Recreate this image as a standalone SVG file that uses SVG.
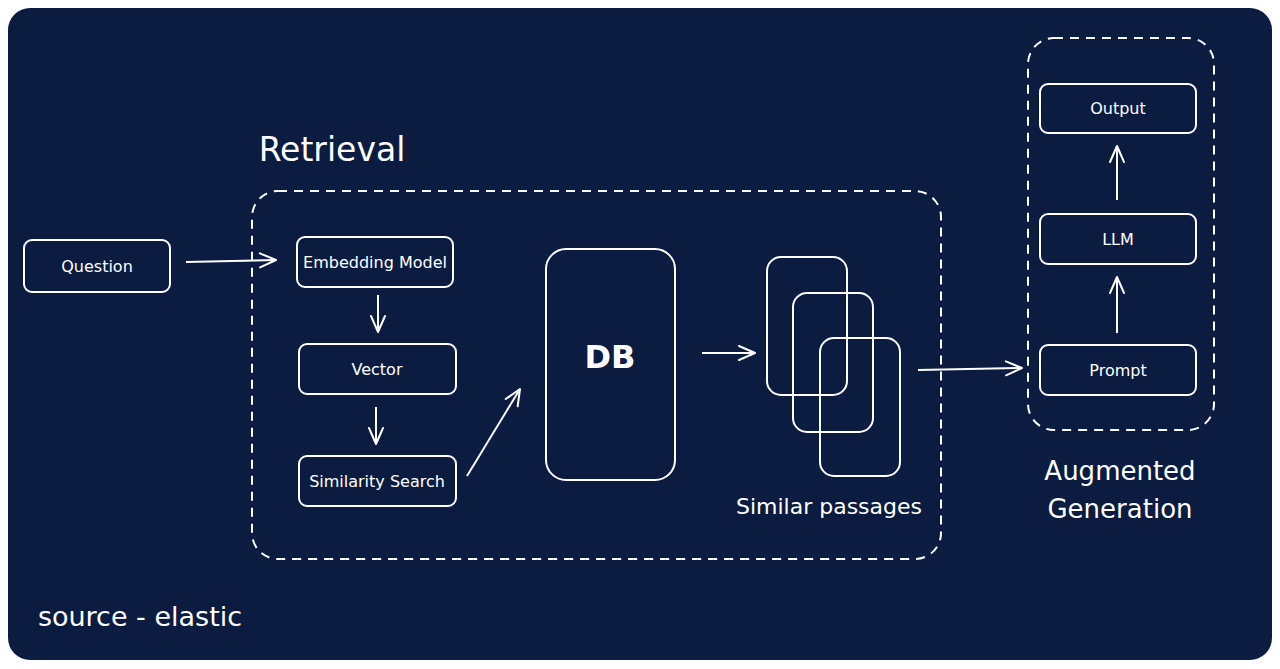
<svg xmlns="http://www.w3.org/2000/svg" width="1280" height="669" viewBox="0 0 1280 669">
<style>
.bg{fill:#0c1c40}
.box{fill:none;stroke:#ffffff;stroke-width:2}
.dash{fill:none;stroke:#ffffff;stroke-width:2;stroke-dasharray:9 7}
.lbl{fill:#ffffff;font-family:"DejaVu Sans","Noto Sans",sans-serif;font-size:16px;text-anchor:middle;dominant-baseline:central}
.big{fill:#ffffff;font-family:"DejaVu Sans","Noto Sans",sans-serif;text-anchor:middle}
.conn{fill:none;stroke:#ffffff;stroke-width:2;marker-end:url(#arr)}
</style>
<defs>
<marker id="arr" viewBox="0 0 20 20" refX="18" refY="10" markerWidth="20" markerHeight="20" markerUnits="userSpaceOnUse" orient="auto">
<path d="M2,3 L18,10 L2,17" fill="none" stroke="#ffffff" stroke-width="2" stroke-linecap="round" stroke-linejoin="round"/>
</marker>
</defs>
<rect width="1280" height="669" fill="#ffffff"/>
<rect class="bg" x="8" y="8" width="1264" height="652" rx="22"/>

<g id="retrieval-group">
<rect class="dash" x="252" y="191" width="689" height="368" rx="26"/>
<text class="big" x="332" y="161" font-size="33">Retrieval</text>
</g>
<g id="augmented-group">
<rect class="dash" x="1028" y="38" width="186" height="392" rx="26"/>
<text class="big" x="1120" y="480" font-size="26">Augmented</text>
<text class="big" x="1120" y="518" font-size="26">Generation</text>
</g>

<g id="question"><rect class="box" x="24" y="240" width="146" height="52" rx="8"/><text class="lbl" x="97" y="266">Question</text></g>
<g id="embedding"><rect class="box" x="297" y="237" width="156" height="50" rx="8"/><text class="lbl" x="375" y="262">Embedding Model</text></g>
<g id="vector"><rect class="box" x="299" y="344" width="157" height="50" rx="8"/><text class="lbl" x="377" y="369">Vector</text></g>
<g id="similarity"><rect class="box" x="299" y="456" width="157" height="50" rx="8"/><text class="lbl" x="377" y="481">Similarity Search</text></g>
<g id="db"><rect class="box" x="546" y="249" width="129" height="231" rx="20"/><text class="big" x="610" y="368" font-size="32" font-weight="bold">DB</text></g>
<g id="passages">
<rect class="box" x="767" y="257" width="80" height="138" rx="14"/>
<rect class="box" x="793" y="293" width="80" height="139" rx="14"/>
<rect class="box" x="820" y="338" width="80" height="138" rx="14"/>
<text class="big" x="829" y="514" font-size="22">Similar passages</text>
</g>
<g id="output"><rect class="box" x="1040" y="84" width="156" height="49" rx="8"/><text class="lbl" x="1118" y="108">Output</text></g>
<g id="llm"><rect class="box" x="1040" y="214" width="156" height="50" rx="8"/><text class="lbl" x="1118" y="239">LLM</text></g>
<g id="prompt"><rect class="box" x="1040" y="345" width="156" height="50" rx="8"/><text class="lbl" x="1118" y="370">Prompt</text></g>

<text class="big" x="140" y="626" font-size="27">source - elastic</text>

<g id="connectors">
<path class="conn" d="M186,262 L276,260"/>
<path class="conn" d="M378,295 L378,332"/>
<path class="conn" d="M376,407 L376,444"/>
<path class="conn" d="M467,476 L520,389"/>
<path class="conn" d="M702,353 L755,353"/>
<path class="conn" d="M918,370 L1022,368"/>
<path class="conn" d="M1117,333 L1117,277"/>
<path class="conn" d="M1117,200 L1117,146"/>
</g>
</svg>
